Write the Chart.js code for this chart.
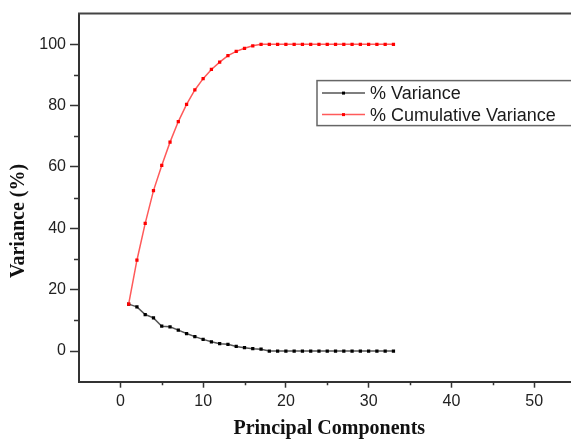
<!DOCTYPE html>
<html>
<head>
<meta charset="utf-8">
<script src="https://cdn.jsdelivr.net/npm/chart.js@4.4.1/dist/chart.umd.min.js"></script>
<style>
  html, body { margin: 0; padding: 0; background: #fff; overflow: hidden; }
  #wrap { width: 580px; height: 442px; }
</style>
</head>
<body>
<div id="wrap"><canvas id="pcaChart" width="580" height="442"></canvas></div>
<script>
// -------------------------------
// Data ---------------------------
// -------------------------------
const components = [1, 2, 3, 4, 5, 6, 7, 8, 9, 10, 11, 12, 13, 14, 15, 16, 17,
  18, 19, 20, 21, 22, 23, 24, 25, 26, 27, 28, 29, 30, 31, 32, 33];
const variance = [15.3, 14.4, 11.9, 10.8, 8.1, 7.9, 6.8, 5.7, 4.7, 3.8, 3.0, 2.4,
  2.2, 1.5, 1.1, 0.75, 0.6, 0, 0, 0, 0, 0, 0, 0, 0, 0, 0, 0, 0, 0, 0, 0, 0];
const cumulative = [15.3, 29.6, 41.6, 52.3, 60.5, 68.1, 74.8, 80.4, 85.1, 88.8,
  91.8, 94.2, 96.3, 97.7, 98.7, 99.5, 100, 100, 100, 100, 100, 100, 100, 100,
  100, 100, 100, 100, 100, 100, 100, 100, 100];

const xMajorTicks = [0, 10, 20, 30, 40, 50];
const xMinorTicks = [5, 15, 25, 35, 45];
const yMajorTicks = [0, 20, 40, 60, 80, 100];
const yMinorTicks = [10, 30, 50, 70, 90];

const seriesLabels = ["% Variance", "% Cumulative Variance"];
const xTitle = "Principal Components";
const yTitle = "Variance (%)";

const toPoints = (vals) => components.map((c, i) => ({ x: c, y: vals[i] }));

// -------------------------------
// Frame, minor ticks, titles, legend
// -------------------------------
const extras = {
  id: "extras",
  afterDraw(chart) {
    const { ctx, chartArea: a, scales: { x, y } } = chart;
    ctx.save();

    // top / right frame
    ctx.strokeStyle = "#444";
    ctx.lineWidth = 2;
    ctx.beginPath();
    ctx.moveTo(a.left - 1, a.top);
    ctx.lineTo(a.right, a.top);
    ctx.lineTo(a.right, a.bottom);
    ctx.stroke();

    // minor ticks
    ctx.strokeStyle = "#333";
    ctx.lineWidth = 1.5;
    ctx.beginPath();
    xMinorTicks.forEach((v) => {
      const px = Math.round(x.getPixelForValue(v)) + 0.5;
      ctx.moveTo(px, a.bottom);
      ctx.lineTo(px, a.bottom + 3.5);
    });
    yMinorTicks.forEach((v) => {
      const py = Math.round(y.getPixelForValue(v)) + 0.5;
      ctx.moveTo(a.left, py);
      ctx.lineTo(a.left - 5, py);
    });
    ctx.stroke();

    // axis titles
    ctx.fillStyle = "#111";
    ctx.font = "bold 20px 'Liberation Serif', 'Times New Roman', serif";
    ctx.textAlign = "center";
    ctx.textBaseline = "alphabetic";
    ctx.fillText(xTitle, (a.left + a.right) / 2 + 2, 434);
    ctx.save();
    ctx.translate(24, 221);
    ctx.rotate(-Math.PI / 2);
    ctx.fillText(yTitle, 0, 0);
    ctx.restore();

    // legend box
    const lx = a.left + 238, ly = a.top + 67;
    ctx.strokeStyle = "#666";
    ctx.lineWidth = 1.5;
    ctx.strokeRect(lx, ly, 320, 45);
    ctx.font = "18px 'Liberation Sans', Arial, sans-serif";
    ctx.textAlign = "left";
    ctx.textBaseline = "middle";
    chart.data.datasets.forEach((ds, i) => {
      const ry = ly + 12.5 + i * 21.5;
      ctx.strokeStyle = ds.borderColor;
      ctx.lineWidth = 1.5;
      ctx.beginPath();
      ctx.moveTo(lx + 5, ry);
      ctx.lineTo(lx + 48, ry);
      ctx.stroke();
      ctx.fillStyle = ds.pointBackgroundColor;
      ctx.fillRect(lx + 25, ry - 1.5, 3, 3);
      ctx.fillStyle = "#1a1a1a";
      ctx.fillText(ds.label, lx + 53, ry + 1);
    });

    ctx.restore();
  },
};

// -------------------------------
// Chart --------------------------
// -------------------------------
const tickFont = { family: "'Liberation Sans', Arial, sans-serif", size: 16 };

const pcaCtx = document.getElementById("pcaChart").getContext("2d");
const pcaChart = new Chart(pcaCtx, {
  type: "line",
  data: {
    datasets: [
      {
        label: seriesLabels[0],
        data: toPoints(variance),
        borderColor: "#555555",
        backgroundColor: "#000000",
        pointBackgroundColor: "#000000",
        pointBorderColor: "#000000",
        pointBorderWidth: 0,
        pointStyle: "rect",
        pointRadius: 2.3,
        borderWidth: 1.5,
        tension: 0,
        order: 1,
      },
      {
        label: seriesLabels[1],
        data: toPoints(cumulative),
        borderColor: "#ff5a5a",
        backgroundColor: "#ff0000",
        pointBackgroundColor: "#ff0000",
        pointBorderColor: "#ff0000",
        pointBorderWidth: 0,
        pointStyle: "rect",
        pointRadius: 2.3,
        borderWidth: 1.5,
        tension: 0,
        order: 0,
      },
    ],
  },
  options: {
    responsive: false,
    animation: false,
    layout: { padding: { left: 0, top: 13, right: 4.5, bottom: 0 } },
    plugins: { legend: { display: false }, tooltip: { enabled: false } },
    scales: {
      x: {
        type: "linear",
        min: -5,
        max: 55,
        afterBuildTicks: (s) => { s.ticks = xMajorTicks.map((v) => ({ value: v })); },
        afterFit: (s) => { s.height = 60.3; },
        border: { display: true, color: "#333", width: 2 },
        grid: { drawOnChartArea: false, drawTicks: true, tickLength: 6, tickColor: "#333", tickWidth: 1.5 },
        ticks: { color: "#222", font: tickFont, padding: 4, maxRotation: 0 },
      },
      y: {
        type: "linear",
        min: -10,
        max: 110,
        afterBuildTicks: (s) => { s.ticks = yMajorTicks.map((v) => ({ value: v })); },
        afterFit: (s) => { s.width = 79; },
        border: { display: true, color: "#333", width: 2 },
        grid: { drawOnChartArea: false, drawTicks: true, tickLength: 9, tickColor: "#333", tickWidth: 1.5 },
        ticks: { color: "#222", font: tickFont, padding: 4 },
      },
    },
  },
  plugins: [extras],
});
</script>
</body>
</html>
